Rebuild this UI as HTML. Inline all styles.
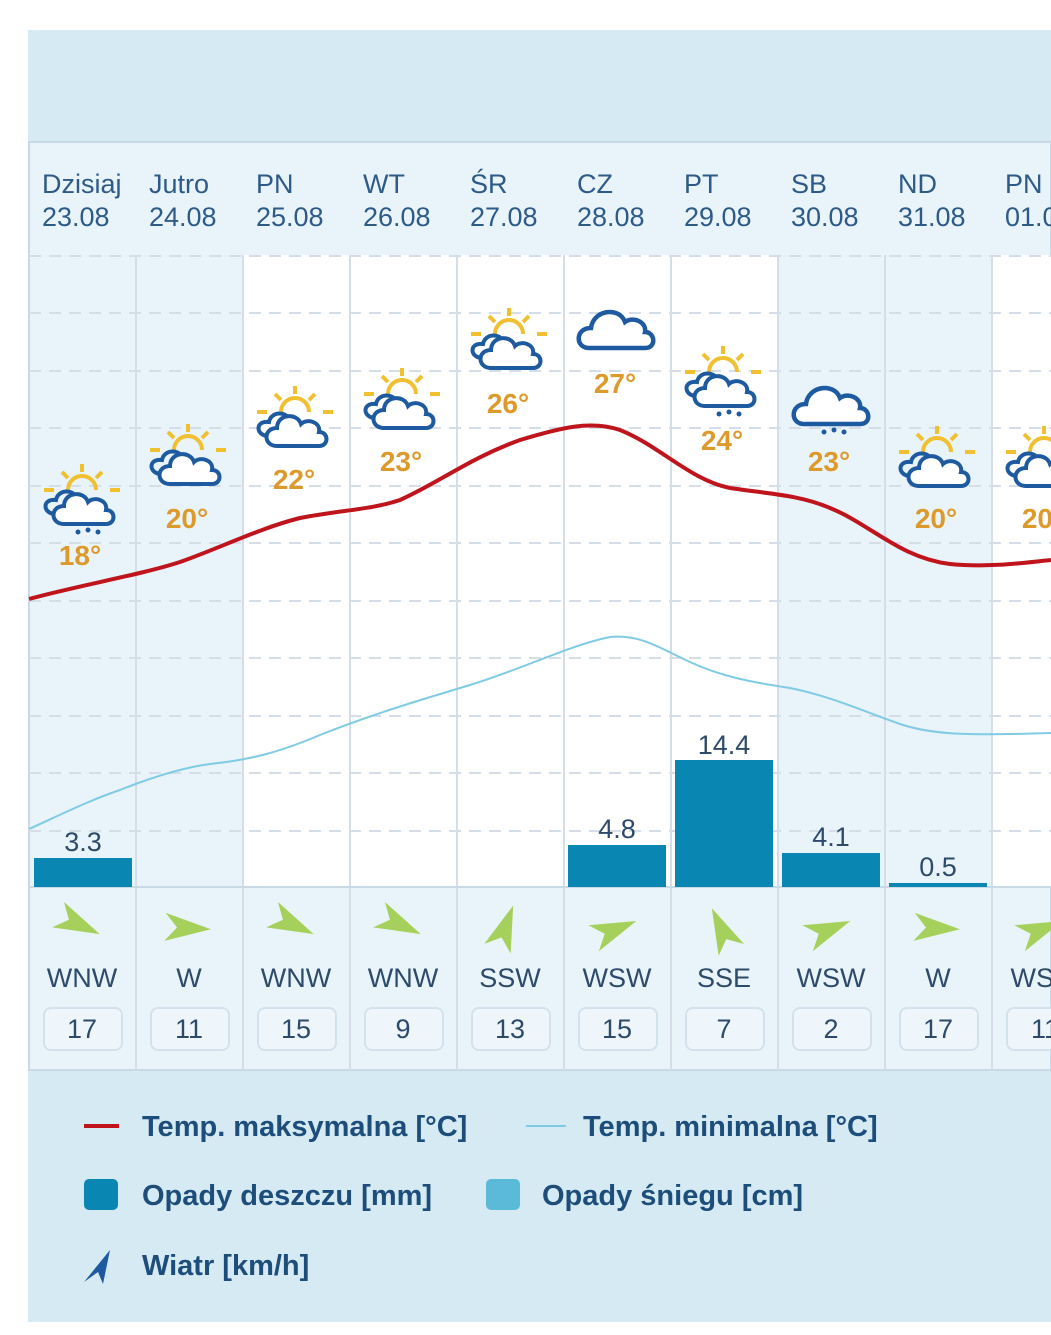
<!DOCTYPE html>
<html><head><meta charset="utf-8"><style>
html,body{margin:0;padding:0;background:#fff;}
svg{display:block;font-family:"Liberation Sans",sans-serif;}
</style></head><body>
<svg width="1051" height="1335" viewBox="0 0 1051 1335" xmlns="http://www.w3.org/2000/svg">
<defs>
<g id="sun" stroke="#f0c030" stroke-width="4" fill="none">
<path d="M26,30 A14,14 0 0 1 54,30"/>
<line x1="40" y1="4" x2="40" y2="12"/><line x1="20" y1="12" x2="26" y2="18"/><line x1="60" y1="12" x2="54" y2="18"/>
<line x1="2" y1="30" x2="12" y2="30"/><line x1="68" y1="30" x2="78" y2="30"/>
</g>
<path id="cl" d="M22,64 C8,64 8,46 22,46 C22,32 42,30 46,42 C52,36 66,40 64,50 C74,50 74,64 64,64 Z" fill="#fff" stroke="#1d5aa0" stroke-width="4"/>
<path id="cls" d="M14,54 C0,54 0,38 14,40 C16,29 32,29 34,38" fill="none" stroke="#1d5aa0" stroke-width="4"/>
<g id="sc"><use href="#sun"/><use href="#cls"/><use href="#cl"/></g>
<g id="scr"><use href="#sun"/><use href="#cls"/><use href="#cl"/><circle cx="36" cy="72" r="2.5" fill="#1d5aa0"/><circle cx="46" cy="70" r="2.5" fill="#1d5aa0"/><circle cx="56" cy="72" r="2.5" fill="#1d5aa0"/></g>
<path id="big" d="M14,48 C0,48 0,28 16,28 C18,10 44,6 50,22 C58,16 72,22 70,32 C80,32 82,48 70,48 Z" fill="#fff" stroke="#1d5aa0" stroke-width="4.5"/>
<polygon id="ar" points="24,0 -22,-14 -10,0 -22,14" fill="#a6d05c"/>
</defs>
<rect x="28" y="30" width="1023" height="1292" fill="#d5eaf3"/>
<rect x="29" y="142" width="1022" height="928" fill="#e8f4fa" stroke="#c9d9e6" stroke-width="2"/>
<rect x="243" y="255" width="535" height="632" fill="#fff"/>
<rect x="992" y="255" width="59" height="632" fill="#fff"/>
<g stroke="#d4dde8" stroke-width="2" stroke-dasharray="12,8">
<line x1="29" y1="256" x2="1051" y2="256"/><line x1="29" y1="313" x2="1051" y2="313"/><line x1="29" y1="371" x2="1051" y2="371"/><line x1="29" y1="428" x2="1051" y2="428"/><line x1="29" y1="486" x2="1051" y2="486"/><line x1="29" y1="543" x2="1051" y2="543"/><line x1="29" y1="601" x2="1051" y2="601"/><line x1="29" y1="658" x2="1051" y2="658"/><line x1="29" y1="716" x2="1051" y2="716"/><line x1="29" y1="773" x2="1051" y2="773"/><line x1="29" y1="831" x2="1051" y2="831"/>
</g>
<g stroke="#d4dde8" stroke-width="2">
<line x1="136" y1="255" x2="136" y2="1070"/><line x1="243" y1="255" x2="243" y2="1070"/><line x1="350" y1="255" x2="350" y2="1070"/><line x1="457" y1="255" x2="457" y2="1070"/><line x1="564" y1="255" x2="564" y2="1070"/><line x1="671" y1="255" x2="671" y2="1070"/><line x1="778" y1="255" x2="778" y2="1070"/><line x1="885" y1="255" x2="885" y2="1070"/><line x1="992" y1="255" x2="992" y2="1070"/>
<line x1="29" y1="887" x2="1051" y2="887" stroke="#c9d9e6"/>
</g>
<g fill="#2e5a87" font-size="27">
<text x="42" y="193">Dzisiaj</text><text x="42" y="226">23.08</text>
<text x="149" y="193">Jutro</text><text x="149" y="226">24.08</text>
<text x="256" y="193">PN</text><text x="256" y="226">25.08</text>
<text x="363" y="193">WT</text><text x="363" y="226">26.08</text>
<text x="470" y="193">ŚR</text><text x="470" y="226">27.08</text>
<text x="577" y="193">CZ</text><text x="577" y="226">28.08</text>
<text x="684" y="193">PT</text><text x="684" y="226">29.08</text>
<text x="791" y="193">SB</text><text x="791" y="226">30.08</text>
<text x="898" y="193">ND</text><text x="898" y="226">31.08</text>
<text x="1005" y="193">PN</text><text x="1005" y="226">01.09</text>
</g>
<path d="M29,829 C60,815 90,800 120,790 C150,778 180,768 210,764 C250,760 280,752 320,735 C370,715 420,700 470,685 C520,670 570,645 610,637 C640,634 660,648 690,662 C720,676 750,682 790,688 C830,696 860,710 900,724 C930,734 960,736 1051,733" fill="none" stroke="#7fcbe4" stroke-width="2"/>
<path d="M29,599 C80,585 140,575 180,562 C220,548 260,528 300,518 C340,510 370,510 400,500 C440,482 470,458 520,440 C560,428 590,420 620,430 C660,446 690,480 730,488 C770,494 800,495 830,508 C870,524 900,558 950,564 C990,568 1030,562 1051,560" fill="none" stroke="#c0141c" stroke-width="4"/>
<use href="#scr" x="42" y="460"/>
<use href="#sc" x="148" y="420"/>
<use href="#sc" x="255" y="382"/>
<use href="#sc" x="362" y="364"/>
<use href="#sc" x="469" y="304"/>
<use href="#big" x="575" y="300"/>
<use href="#scr" x="683" y="342"/>
<g transform="translate(790,376)"><use href="#big"/><circle cx="34" cy="56" r="2.5" fill="#1d5aa0"/><circle cx="44" cy="54" r="2.5" fill="#1d5aa0"/><circle cx="54" cy="56" r="2.5" fill="#1d5aa0"/></g>
<use href="#sc" x="897" y="422"/>
<use href="#sc" x="1004" y="422"/>
<g fill="#dd9a2b" font-size="28" font-weight="bold" text-anchor="middle">
<text x="80" y="565">18°</text><text x="187" y="528">20°</text><text x="294" y="489">22°</text><text x="401" y="471">23°</text><text x="508" y="413">26°</text><text x="615" y="393">27°</text><text x="722" y="450">24°</text><text x="829" y="471">23°</text><text x="936" y="528">20°</text><text x="1043" y="528">20°</text>
</g>
<g fill="#0a86b3">
<rect x="34" y="858" width="98" height="29"/><rect x="568" y="845" width="98" height="42"/><rect x="675" y="760" width="98" height="127"/><rect x="782" y="853" width="98" height="34"/><rect x="889" y="883" width="98" height="4"/>
</g>
<g fill="#2e4a6a" font-size="27" text-anchor="middle">
<text x="83" y="851">3.3</text><text x="617" y="838">4.8</text><text x="724" y="754">14.4</text><text x="831" y="846">4.1</text><text x="938" y="876">0.5</text>
</g>
<g>
<use href="#ar" transform="translate(78,924) rotate(25)"/>
<use href="#ar" transform="translate(187,928) rotate(3)"/>
<use href="#ar" transform="translate(292,924) rotate(25)"/>
<use href="#ar" transform="translate(399,924) rotate(25)"/>
<use href="#ar" transform="translate(505,928) rotate(-70)"/>
<use href="#ar" transform="translate(614,930) rotate(-22)"/>
<use href="#ar" transform="translate(722,930) rotate(-115)"/>
<use href="#ar" transform="translate(828,930) rotate(-22)"/>
<use href="#ar" transform="translate(936,928) rotate(3)"/>
<use href="#ar" transform="translate(1040,930) rotate(-22)"/>
</g>
<g fill="#eef6fb" stroke="#d3e1ec" stroke-width="2">
<rect x="44" y="1008" width="78" height="42" rx="7"/><rect x="151" y="1008" width="78" height="42" rx="7"/><rect x="258" y="1008" width="78" height="42" rx="7"/><rect x="365" y="1008" width="78" height="42" rx="7"/><rect x="472" y="1008" width="78" height="42" rx="7"/><rect x="579" y="1008" width="78" height="42" rx="7"/><rect x="686" y="1008" width="78" height="42" rx="7"/><rect x="793" y="1008" width="78" height="42" rx="7"/><rect x="900" y="1008" width="78" height="42" rx="7"/><rect x="1007" y="1008" width="78" height="42" rx="7"/>
</g>
<g fill="#2e4a6a" font-size="27" text-anchor="middle">
<text x="82" y="987">WNW</text><text x="189" y="987">W</text><text x="296" y="987">WNW</text><text x="403" y="987">WNW</text><text x="510" y="987">SSW</text><text x="617" y="987">WSW</text><text x="724" y="987">SSE</text><text x="831" y="987">WSW</text><text x="938" y="987">W</text><text x="1045" y="987">WSW</text>
<text x="82" y="1038">17</text><text x="189" y="1038">11</text><text x="296" y="1038">15</text><text x="403" y="1038">9</text><text x="510" y="1038">13</text><text x="617" y="1038">15</text><text x="724" y="1038">7</text><text x="831" y="1038">2</text><text x="938" y="1038">17</text><text x="1045" y="1038">11</text>
</g>
<line x1="84" y1="1126" x2="119" y2="1126" stroke="#c0141c" stroke-width="4"/>
<line x1="526" y1="1126" x2="566" y2="1126" stroke="#7fcbe4" stroke-width="2"/>
<rect x="84" y="1179" width="34" height="31" rx="5" fill="#0a86b3"/>
<rect x="486" y="1179" width="34" height="31" rx="5" fill="#5bbad8"/>
<polygon points="84,1282 110,1250 103,1284 98,1272" fill="#1d5aa0"/>
<g fill="#1d4d7a" font-size="29" font-weight="bold">
<text x="142" y="1136">Temp. maksymalna [°C]</text>
<text x="583" y="1136">Temp. minimalna [°C]</text>
<text x="142" y="1205">Opady deszczu [mm]</text>
<text x="542" y="1205">Opady śniegu [cm]</text>
<text x="142" y="1275">Wiatr [km/h]</text>
</g>
</svg>
</body></html>
